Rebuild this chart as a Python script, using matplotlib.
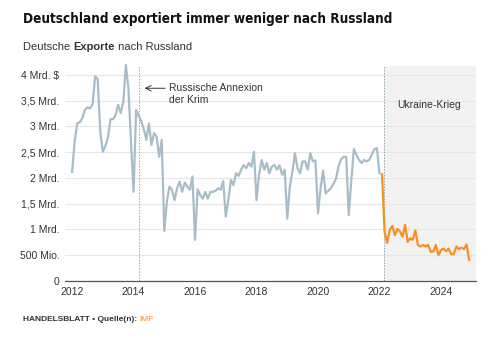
import numpy as np
import matplotlib
matplotlib.use("Agg")
import matplotlib.pyplot as plt

# Monthly exports in Mrd. US-$, Jan 2012 .. Jan 2022 (before the war)
pre_war = [
    2.12, 2.70, 3.06, 3.08, 3.16, 3.32, 3.37, 3.35, 3.43, 3.97, 3.92, 2.90,   # 2012
    2.51, 2.62, 2.78, 3.14, 3.14, 3.22, 3.42, 3.26, 3.48, 4.19, 3.74, 2.70,   # 2013
    1.73, 3.32, 3.20, 3.10, 2.95, 2.74, 3.06, 2.64, 2.87, 2.80, 2.41, 2.74,   # 2014
    0.97, 1.54, 1.83, 1.77, 1.57, 1.80, 1.93, 1.73, 1.91, 1.83, 1.77, 2.03,   # 2015
    0.80, 1.78, 1.67, 1.60, 1.73, 1.60, 1.73, 1.73, 1.75, 1.80, 1.77, 1.94,   # 2016
    1.25, 1.57, 1.96, 1.86, 2.09, 2.04, 2.16, 2.25, 2.19, 2.29, 2.22, 2.51,   # 2017
    1.57, 2.06, 2.35, 2.16, 2.29, 2.09, 2.22, 2.25, 2.16, 2.25, 2.06, 2.16,   # 2018
    1.21, 1.83, 2.12, 2.48, 2.19, 2.09, 2.32, 2.32, 2.16, 2.48, 2.32, 2.34,   # 2019
    1.31, 1.80, 2.14, 1.70, 1.75, 1.80, 1.88, 1.98, 2.22, 2.36, 2.41, 2.41,   # 2020
    1.28, 1.95, 2.56, 2.45, 2.35, 2.29, 2.35, 2.32, 2.35, 2.45, 2.56, 2.58,   # 2021
    2.09,                                                                     # Jan 2022
]
# Feb 2022 .. Dec 2024 (Ukraine-Krieg)
war = [
    2.07, 0.95, 0.74, 0.99, 1.07, 0.89, 1.01, 0.96, 0.86, 1.09, 0.76,         # 2022
    0.83, 0.80, 0.98, 0.70, 0.67, 0.70, 0.67, 0.70, 0.57, 0.57, 0.70, 0.50,   # 2023
    0.60, 0.63, 0.58, 0.63, 0.52, 0.52, 0.67, 0.62, 0.65, 0.62, 0.71, 0.41,   # 2024
]
start_year = 2012
annexion = 2014 + 2 / 12      # Maerz 2014
war_start = 2022 + 1.8 / 12   # 24. Februar 2022

year_ticks = list(range(2012, 2025, 2))
y_ticks = [0, 0.5, 1, 1.5, 2, 2.5, 3, 3.5, 4]
y_labels = ["0", "500 Mio.", "1 Mrd.", "1,5 Mrd.", "2 Mrd.", "2,5 Mrd.",
            "3 Mrd.", "3,5 Mrd.", "4 Mrd. $"]

GREY = "#a9bdc8"
ORANGE = "#f7901e"
TEXT = "#333333"

plt.rcParams['font.family'] = ['Liberation Sans', 'DejaVu Sans']

x_pre = start_year + np.arange(len(pre_war)) / 12
x_war = start_year + (len(pre_war) + np.arange(len(war))) / 12

fig = plt.figure(figsize=(5, 3.39), dpi=100)
ax = fig.add_axes([0.13, 0.171, 0.822, 0.634])

ax.axvspan(war_start, 2025.14, color="#f2f2f2", zorder=0, lw=0)
ax.axvline(annexion, color="#8fa6b4", lw=0.7, ls=(0, (1.5, 1.5)), zorder=1)
ax.axvline(war_start, color="#8fa6b4", lw=0.7, ls=(0, (1.5, 1.5)), zorder=1)

ax.plot(x_pre, pre_war, color=GREY, lw=1.6, zorder=3, clip_on=False)
ax.plot(x_war, war, color=ORANGE, lw=1.6, zorder=3, clip_on=False)

ax.set_xlim(2011.77, 2025.14)
ax.set_ylim(0, 4.17)
ax.set_yticks(y_ticks)
ax.set_yticklabels(y_labels)
ax.set_xticks(year_ticks)
ax.tick_params(axis="both", length=0, labelsize=7.5, labelcolor=TEXT)
ax.tick_params(axis="y", pad=4)
ax.tick_params(axis="x", pad=4)
ax.grid(axis="y", color="#e6e6e6", lw=0.8, zorder=0)
ax.set_axisbelow(True)
for s in ["top", "right", "left"]:
    ax.spines[s].set_visible(False)
ax.spines["bottom"].set_color("#555555")
ax.spines["bottom"].set_linewidth(0.9)

# annotations
ax.annotate("", xy=(annexion + 0.1, 3.74), xytext=(annexion + 0.95, 3.74),
            arrowprops=dict(arrowstyle="->", color=TEXT, lw=0.7))
ax.text(annexion + 1.0, 3.84, "Russische Annexion\nder Krim", fontsize=7.5,
        color=TEXT, va="top", ha="left", linespacing=1.2)
ax.text(2023.6, 3.42, "Ukraine-Krieg", fontsize=7.5, color=TEXT,
        ha="center", va="center")

fig.canvas.draw()
renderer = fig.canvas.get_renderer()

# title: condensed bold, shrink until it fits the reference width
title = fig.text(0.046, 0.945, "Deutschland exportiert immer weniger nach Russland",
                 fontsize=14, fontweight="bold", fontstretch="condensed",
                 color="#111111", va="center", family=["DejaVu Sans"])
size = 14
while title.get_window_extent(renderer).width > 374 and size > 8:
    size -= 0.25
    title.set_fontsize(size)

parts = [("Deutsche ", "normal"), ("Exporte", "bold"), (" nach Russland", "normal")]
x0 = 0.046 * 500
for txt, w in parts:
    t = fig.text(x0 / 500, 0.862, txt, fontsize=8, fontweight=w, color=TEXT,
                 va="center")
    x0 += t.get_window_extent(renderer).width

x0 = 0.046 * 500
for txt, w, c in [("HANDELSBLATT \u2022 Quelle(n): ", "bold", TEXT), ("IMF", "normal", ORANGE)]:
    t = fig.text(x0 / 500, 0.058, txt, fontsize=6, fontweight=w, color=c,
                 va="center")
    x0 += t.get_window_extent(renderer).width

fig.savefig("out.png", dpi=100)
